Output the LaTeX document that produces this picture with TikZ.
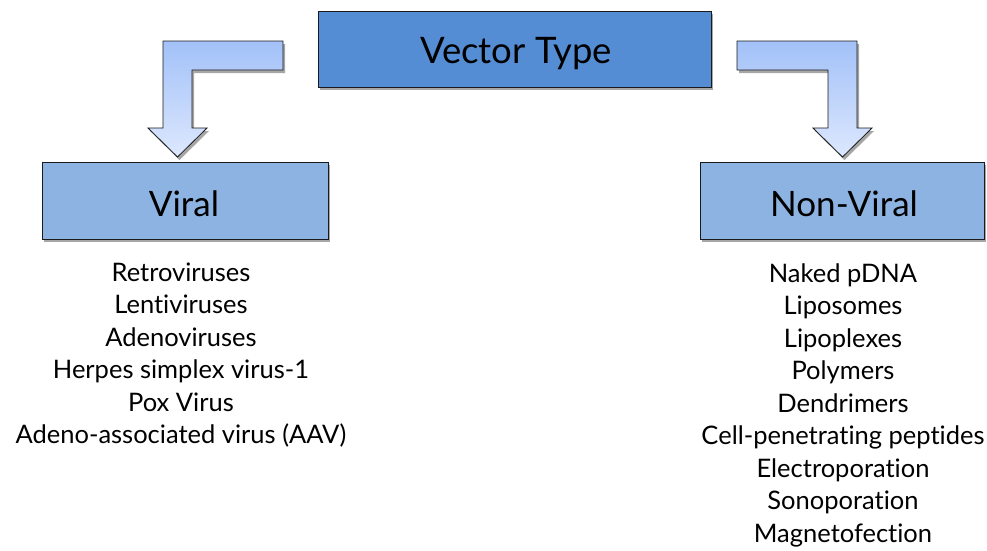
\documentclass[tikz,border=0pt]{standalone}
\usepackage{fontspec}
\setmainfont{Lato}[Ligatures={NoCommon}]
\usetikzlibrary{shadows}
\definecolor{topblue}{HTML}{548DD4}
\definecolor{subblue}{HTML}{8DB3E2}
\definecolor{arrtop}{HTML}{A2C1F8}
\definecolor{arrbot}{HTML}{DDE8FE}
\definecolor{edge}{HTML}{1A1A1A}
\tikzset{
  boxshadow/.style={drop shadow={shadow xshift=2pt, shadow yshift=-3pt, fill=black, opacity=0.35}},
  topbox/.style={draw=edge, line width=0.8pt, fill=topblue, boxshadow, minimum width=393pt, minimum height=76pt, inner sep=0pt},
  subbox/.style={draw=edge, line width=0.8pt, fill=subblue, boxshadow, minimum width=286pt, minimum height=77pt, inner sep=0pt},
  blockarrow/.style={draw=edge, line width=0.8pt, top color=arrtop, bottom color=arrbot, line join=miter, boxshadow},
  item/.style={anchor=base, font=\fontsize{25.5}{30}\selectfont, inner sep=0pt},
}
\begin{document}
\begin{tikzpicture}[x=1pt, y=-1pt]
\useasboundingbox (0,0) rectangle (987,550);
% boxes
\node[topbox] (vt) at (514.5,49) {};
\node[anchor=base, font=\fontsize{36.5}{44}\selectfont] (vtl) at (516,63) {Vector Type};
\node[subbox] (viral) at (185,200.5) {};
\node[anchor=base, font=\fontsize{35}{40}\selectfont] (virall) at (184,216) {Viral};
\node[subbox, minimum width=284pt] (nonviral) at (842,200.5) {};
\node[anchor=base, font=\fontsize{35}{40}\selectfont] (nonviralll) at (844,216) {Non-Viral};
% block arrows
\draw[blockarrow] (283,41) -- (163,41) -- (163,128) -- (148,128) -- (177.5,157) -- (207,128) -- (192,128) -- (192,70) -- (283,70) -- cycle;
\draw[blockarrow] (737,41) -- (857,41) -- (857,128) -- (872,128) -- (842.5,157) -- (813,128) -- (828,128) -- (828,70) -- (737,70) -- cycle;
% viral list
\node[item] (v1) at (181,281) {Retroviruses};
\node[item] (v2) at (181,313.5) {Lentiviruses};
\node[item] (v3) at (181,346) {Adenoviruses};
\node[item] (v4) at (181,378.5) {Herpes simplex virus-1};
\node[item] (v5) at (181,411) {Pox Virus};
\node[item] (v6) at (181,443.5) {Adeno-associated virus (AAV)};
% non-viral list
\node[item] (n1) at (843,282) {Naked pDNA};
\node[item] (n2) at (843,314.5) {Liposomes};
\node[item] (n3) at (843,347) {Lipoplexes};
\node[item] (n4) at (843,379.5) {Polymers};
\node[item] (n5) at (843,412) {Dendrimers};
\node[item] (n6) at (843,444.5) {Cell-penetrating peptides};
\node[item] (n7) at (843,477) {Electroporation};
\node[item] (n8) at (843,509.5) {Sonoporation};
\node[item] (n9) at (843,542) {Magnetofection};
\end{tikzpicture}
\end{document}
